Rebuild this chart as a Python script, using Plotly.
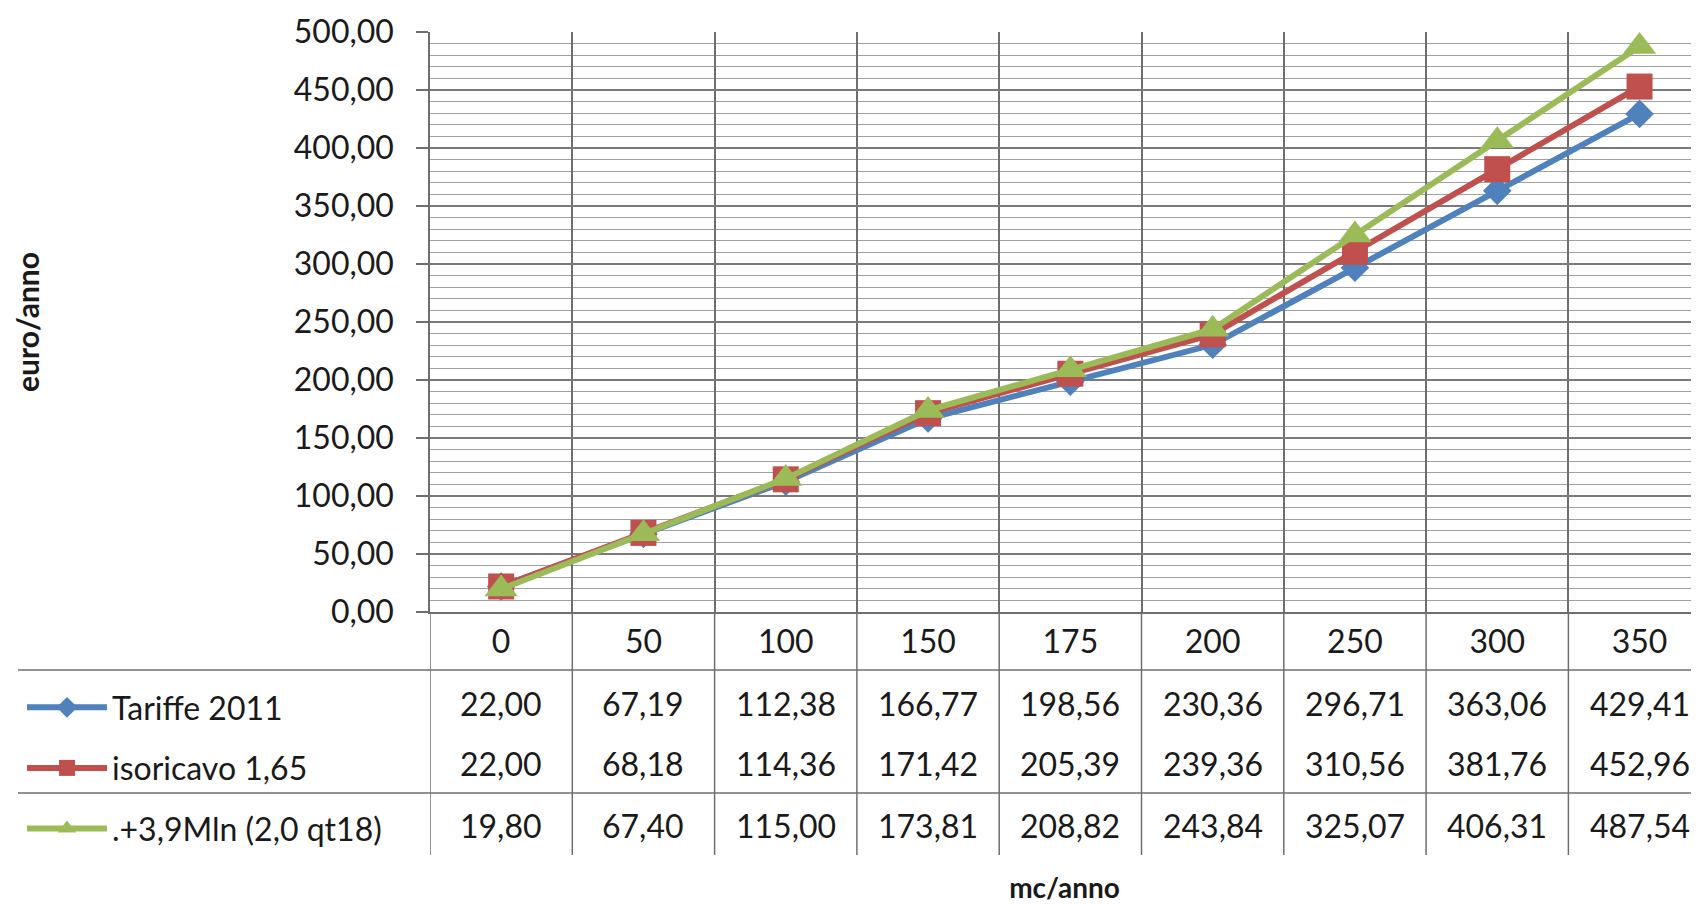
import plotly.graph_objects as go

categories = ["0", "50", "100", "150", "175", "200", "250", "300", "350"]
series_names = ["Tariffe 2011", "isoricavo 1,65", ".+3,9Mln (2,0 qt18)"]
tariffe_2011 = [22.00, 67.19, 112.38, 166.77, 198.56, 230.36, 296.71, 363.06, 429.41]
isoricavo = [22.00, 68.18, 114.36, 171.42, 205.39, 239.36, 310.56, 381.76, 452.96]
mln_39 = [19.80, 67.40, 115.00, 173.81, 208.82, 243.84, 325.07, 406.31, 487.54]
series_values = [tariffe_2011, isoricavo, mln_39]
colors = ["#4F81BD", "#C0504D", "#9BBB59"]
symbols = ["diamond", "square", "triangle-up"]
msizes = [22, 26, 29]

OFF = 8  # page body margin
W, H = 1699 - OFF, 904 - OFF
L, R, T = 430 - OFF, 0, 32 - OFF
PLOT_BOTTOM = 612 - OFF
B = H - PLOT_BOTTOM
plot_h = PLOT_BOTTOM - T
plot_w = W - L - R
CAT_W = 142.3
FONT = "Lato"
FS = 32
TXT = "#1a1a1a"
GRID = "#6e6e6e"

def py(pix):
    """screen y pixel -> paper y"""
    return (PLOT_BOTTOM - (pix - OFF)) / plot_h

def px(pix):
    return ((pix - OFF) - L) / plot_w

fig = go.Figure()
for name, vals, c, s, ms in zip(series_names, series_values, colors, symbols, msizes):
    fig.add_trace(go.Scatter(
        x=categories, y=vals, name=name, mode="lines+markers",
        line=dict(color=c, width=6),
        marker=dict(symbol=s, size=ms, color=c),
        legendgroup=name,
    ))

# data table values
row_pix = [703, 763, 825]
annotations = []
for vals, rp in zip(series_values, row_pix):
    for i, v in enumerate(vals):
        annotations.append(dict(
            x=i, y=py(rp), xref="x", yref="paper",
            text=f"{v:.2f}".replace(".", ","), showarrow=False,
            font=dict(family=FONT, size=FS, color=TXT),
            xanchor="center", yanchor="middle",
        ))

shapes = []
n = len(categories)
for i in range(n + 1):
    shapes.append(dict(type="line", xref="x", yref="paper",
                       x0=i - 0.5, x1=i - 0.5, y0=0, y1=py(855),
                       line=dict(color=GRID, width=1.5)))
for yp in [670, 793]:
    shapes.append(dict(type="line", xref="paper", yref="paper",
                       x0=px(18), x1=1, y0=py(yp), y1=py(yp),
                       line=dict(color=GRID, width=1.5)))

fig.update_layout(
    width=W, height=H,
    margin=dict(l=L, r=R, t=T, b=B),
    paper_bgcolor="white", plot_bgcolor="white",
    separators=", ",
    font=dict(family=FONT, size=FS, color=TXT),
    showlegend=True,
    legend=dict(
        x=px(22), y=py(680), xanchor="left", yanchor="top",
        font=dict(family=FONT, size=FS, color=TXT),
        tracegroupgap=16, itemwidth=80, bgcolor="rgba(0,0,0,0)",
    ),
    xaxis=dict(
        type="category", range=[-0.5, -0.5 + plot_w / CAT_W], tickson="boundaries",
        showgrid=True, gridcolor=GRID, gridwidth=1.5,
        showline=True, linecolor=GRID, linewidth=1.5,
        ticks="", ticklabelstandoff=1,
        tickfont=dict(family=FONT, size=FS, color=TXT),
        title=dict(text="<b>mc/anno</b>", font=dict(family=FONT, size=28, color=TXT), standoff=220),
        zeroline=False, fixedrange=True,
    ),
    yaxis=dict(
        range=[0, 500], dtick=50, tickformat=".2f",
        showgrid=True, gridcolor="#7a7a7a", gridwidth=1.5,
        minor=dict(dtick=10, showgrid=True, gridcolor="#a0a0a0", gridwidth=1),
        showline=True, linecolor=GRID, linewidth=1.5,
        ticks="outside", ticklen=12, tickcolor=GRID, tickwidth=1.5,
        ticklabelstandoff=16,
        tickfont=dict(family=FONT, size=FS, color=TXT),
        title=dict(text="<b>euro/anno</b>", font=dict(family=FONT, size=30, color=TXT), standoff=245),
        zeroline=False, fixedrange=True,
    ),
    annotations=annotations,
    shapes=shapes,
)

fig.write_html("out.html")
